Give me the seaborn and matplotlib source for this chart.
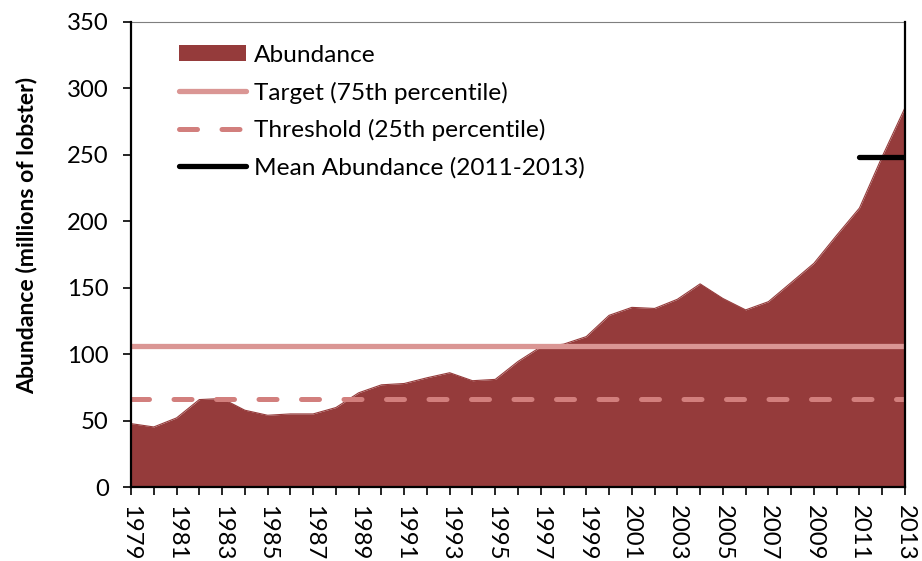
import numpy as np
import pandas as pd
import matplotlib
matplotlib.use("Agg")
import matplotlib.pyplot as plt
import seaborn as sns
from matplotlib.patches import Patch
from matplotlib.lines import Line2D

# ---- data ----
years = list(range(1979, 2014))
abundance = [47.7, 45.2, 52.0, 65.8, 66.6, 57.8, 54.0, 55.0, 55.0, 59.8,
             70.9, 76.9, 77.9, 82.2, 86.0, 80.0, 81.0, 94.5, 105.5, 107.5,
             113.2, 129.2, 135.2, 134.4, 141.3, 152.9, 141.9, 133.3, 139.5, 153.9,
             168.4, 189.5, 210.0, 248.8, 285.5]
target_value = 106.4
threshold_value = 66.3
mean_years = [2011, 2013]
mean_value = 248.1
yticks = [0, 50, 100, 150, 200, 250, 300, 350]

legend_labels = ["Abundance", "Target (75th percentile)",
                 "Threshold (25th percentile)", "Mean Abundance (2011-2013)"]

# ---- style ----
c_area = "#953B3B"
c_target = "#DA9694"
c_thresh = "#D27F7D"
c_mean = "#000000"

sns.set_theme(style="ticks")
plt.rcParams["font.family"] = ["Lato", "DejaVu Sans"]

df = pd.DataFrame({"year": years, "abundance": abundance})
df["target"] = target_value
df["threshold"] = threshold_value
df_mean = pd.DataFrame({"year": mean_years, "mean": [mean_value] * len(mean_years)})

fig = plt.figure(figsize=(9.22, 5.61), dpi=100)
ax = fig.add_axes([131 / 922, 1 - 487 / 561, 774 / 922, 465 / 561])

ax.fill_between(df["year"], 0, df["abundance"], color=c_area, linewidth=0, zorder=1)
sns.lineplot(data=df, x="year", y="abundance", ax=ax, color=c_area, linewidth=0.8, zorder=2)
sns.lineplot(data=df, x="year", y="target", ax=ax, color=c_target, linewidth=3.8, zorder=3)
sns.lineplot(data=df, x="year", y="threshold", ax=ax, color=c_thresh, linewidth=3.6, zorder=3,
             dashes=False)
ax.lines[-1].set_dashes((3.6, 4.9))
ax.lines[-1].set_dash_capstyle("round")
sns.lineplot(data=df_mean, x="year", y="mean", ax=ax, color=c_mean, linewidth=3.8, zorder=4)
ax.lines[-1].set_solid_capstyle("round")

FS = 17.2
ax.set_xlim(1979, 2013)
ax.set_ylim(0, 350)
ax.set_xticks(years, minor=False)
ax.set_xticklabels([str(y) if (y - 1979) % 2 == 0 else "" for y in years],
                   rotation=-90, fontsize=FS)
ax.set_yticks(yticks)
ax.set_yticklabels([str(v) for v in yticks], fontsize=FS)
ax.tick_params(axis="both", direction="out", length=6, width=1.2, color="black",
               labelcolor="black")
ax.tick_params(axis="y", pad=10)
ax.tick_params(axis="x", pad=7)

ax.set_xlabel("")
ax.set_ylabel("Abundance (millions of lobster)", fontsize=16.6, fontweight="bold",
              color="black")
ax.yaxis.set_label_coords(-0.121, 0.542)

for s in ["left", "bottom", "right"]:
    ax.spines[s].set_color("black")
    ax.spines[s].set_linewidth(1.6)
    ax.spines[s].set_zorder(6)
ax.spines["top"].set_color("#7F7F7F")
ax.spines["top"].set_linewidth(0.8)

handles = [
    Patch(facecolor=c_area, edgecolor="none"),
    Line2D([0], [0], color=c_target, lw=3.8, solid_capstyle="round"),
    Line2D([0], [0], color=c_thresh, lw=3.6, dashes=(3.6, 4.9), dash_capstyle="round"),
    Line2D([0], [0], color=c_mean, lw=3.8, solid_capstyle="round"),
]
leg = ax.legend(handles, legend_labels, loc="upper left", bbox_to_anchor=(0.062, 0.951),
                frameon=False, fontsize=17.6, handlelength=2.75, handleheight=0.62,
                handletextpad=0.3, labelspacing=0.64, borderpad=0, borderaxespad=0)
for t in leg.get_texts():
    t.set_color("black")

fig.savefig("out.png", dpi=100)
